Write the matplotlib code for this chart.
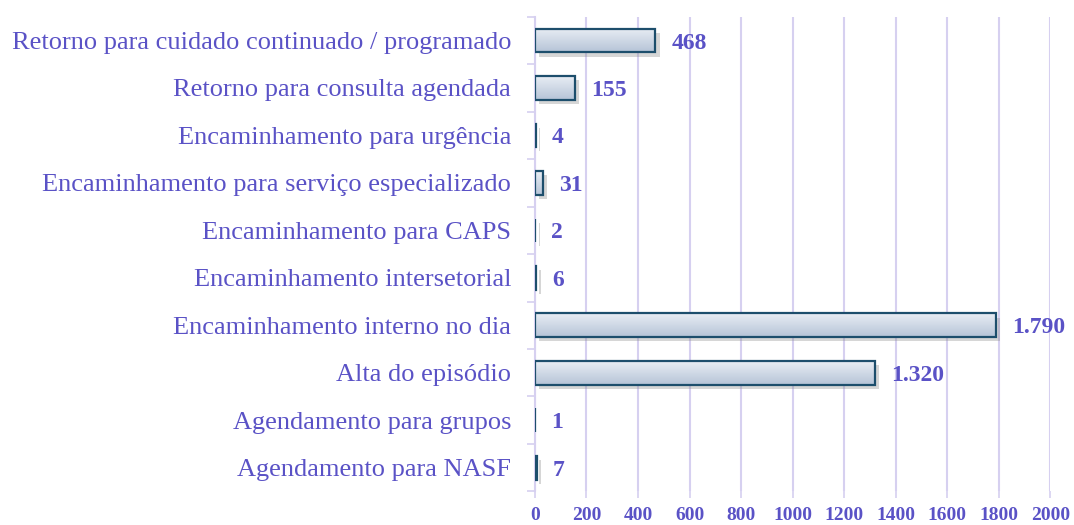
import numpy as np
import matplotlib
matplotlib.use("Agg")
from matplotlib import pyplot as plt
from matplotlib import patheffects as pe

categorias = [
    "Retorno para cuidado continuado / programado",
    "Retorno para consulta agendada",
    "Encaminhamento para urgência",
    "Encaminhamento para serviço especializado",
    "Encaminhamento para CAPS",
    "Encaminhamento intersetorial",
    "Encaminhamento interno no dia",
    "Alta do episódio",
    "Agendamento para grupos",
    "Agendamento para NASF",
]
valores = [468, 155, 4, 31, 2, 6, 1790, 1320, 1, 7]
xticks = list(range(0, 2001, 200))

roxo = "#5a52c6"
lavanda = "#d6d0f0"
plt.rcParams["font.family"] = ["Liberation Serif", "DejaVu Serif"]

fig = plt.figure(figsize=(10.74, 5.25), dpi=100)
ax = fig.add_axes([0.498, 0.064, 0.48, 0.904])

y = np.arange(len(categorias))

grad = np.linspace(0, 1, 64).reshape(-1, 1)
cmap = matplotlib.colors.LinearSegmentedColormap.from_list("g", ["#e8edf4", "#b6c4d7"])

# sombra
ax.barh(y, valores, height=0.5, color="white", edgecolor="none", zorder=2,
        path_effects=[pe.SimplePatchShadow(offset=(3, -3), shadow_rgbFace="#8a8a8a", alpha=0.35), pe.Normal()])
bars = ax.barh(y, valores, height=0.5, color="none", edgecolor="#1d4e6c", linewidth=1.6, zorder=3)
for b in bars:
    x0, y0 = b.get_x(), b.get_y()
    w, h = b.get_width(), b.get_height()
    im = ax.imshow(grad, cmap=cmap, aspect="auto", extent=(x0, x0 + w, y0 + h, y0), zorder=2.5)
    im.set_clip_path(b)
ax.set_ylim(len(categorias) - 0.5, -0.5)
ax.set_xlim(0, 2000)

for yi, v in zip(y, valores):
    txt = "{:,}".format(v).replace(",", ".")
    ax.text(v + 62, yi, txt, va="center_baseline", ha="left", fontsize=17, fontweight="bold", color=roxo, zorder=4)

ax.set_yticks(y)
ax.set_yticklabels(categorias, fontsize=19, color=roxo)
ax.set_yticks(np.arange(-0.5, len(categorias), 1), minor=True)
ax.tick_params(axis="y", which="major", length=0, pad=17)
ax.tick_params(axis="y", which="minor", length=6, color=lavanda, width=1.2)

ax.set_xticks(xticks)
ax.set_xticklabels([str(t) for t in xticks], fontsize=14, fontweight="bold", color=roxo)
ax.tick_params(axis="x", length=5, color=lavanda, width=1.2, pad=6)
ax.xaxis.grid(True, color=lavanda, linewidth=1.5, zorder=0)
ax.set_axisbelow(True)

for s in ["top", "right", "bottom"]:
    ax.spines[s].set_visible(False)
ax.spines["left"].set_color(lavanda)
ax.spines["left"].set_linewidth(1.5)

fig.savefig("out.png", dpi=100)
